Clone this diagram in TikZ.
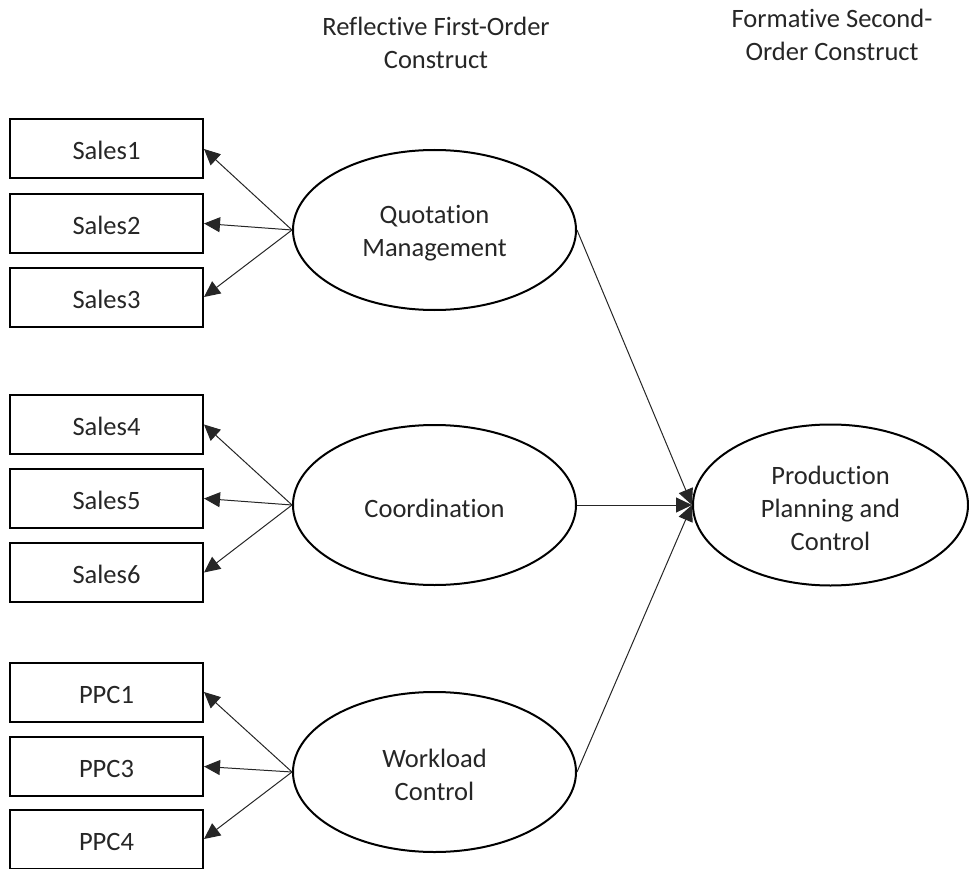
\documentclass[tikz,border=0pt]{standalone}
\usepackage{fontspec}
\setmainfont{Carlito}[Ligatures=NoCommon]
\usetikzlibrary{arrows.meta,shapes.geometric}
\colorlet{inkcolor}{black!85}
\tikzset{
  item/.style={draw, line width=2pt, minimum width=193pt, minimum height=59pt, inner sep=0pt,
    text height=22pt, text depth=0pt, text=inkcolor},
  construct/.style={draw, ellipse, line width=2pt, minimum width=283pt, minimum height=160pt, inner sep=0pt},
  inside/.style={align=center, inner sep=0pt, text=inkcolor},
  heading/.style={align=center, text=inkcolor},
  link/.style={line width=1pt, draw=black!85, -{Triangle[length=16pt, width=15pt]}},
}
\begin{document}
\begin{tikzpicture}[x=1pt, y=-1pt, font=\fontsize{26.5}{33}\selectfont]
\useasboundingbox (0,0) rectangle (969,869);

% column headings
\node[heading] (hfirst) at (436,43) {Reflective First-Order\\Construct};
\node[heading] (hsecond) at (832,35) {Formative Second-\\Order Construct};

% indicator boxes
\node[item] (s1) at (106.5,149) {Sales1};
\node[item] (s2) at (106.5,223.5) {Sales2};
\node[item] (s3) at (106.5,297) {Sales3};
\node[item] (s4) at (106.5,424.5) {Sales4};
\node[item] (s5) at (106.5,498.5) {Sales5};
\node[item] (s6) at (106.5,572.5) {Sales6};
\node[item] (p1) at (106.5,692) {PPC1};
\node[item] (p3) at (106.5,766.5) {PPC3};
\node[item] (p4) at (106.5,839) {PPC4};

% first-order constructs
\node[construct] (qm) at (434.5,230) {};
\node[construct] (co) at (434.5,505) {};
\node[construct] (wc) at (434.5,772) {};

% second-order construct
\node[construct, minimum width=275pt, minimum height=161pt] (ppc) at (830.5,505) {};

% construct names, set slightly below the ellipse centres
\node[inside] (qmname) at ([yshift=-3pt]qm.center) {Quotation\\Management};
\node[inside] (coname) at ([yshift=-3pt]co.center) {Coordination};
\node[inside] (wcname) at ([yshift=-3pt]wc.center) {Workload\\Control};
\node[inside] (ppcname) at ([yshift=-3pt]ppc.center) {Production\\Planning and\\Control};

% reflective loadings
\foreach \c/\a/\b/\d in {qm/s1/s2/s3, co/s4/s5/s6, wc/p1/p3/p4}{
  \draw[link] (\c.west) -- (\a.east);
  \draw[link] (\c.west) -- (\b.east);
  \draw[link] (\c.west) -- (\d.east);
}

% formative paths
\draw[link] (qm.east) -- (ppc.west);
\draw[link] (co.east) -- (ppc.west);
\draw[link] (wc.east) -- (ppc.west);
\end{tikzpicture}
\end{document}
